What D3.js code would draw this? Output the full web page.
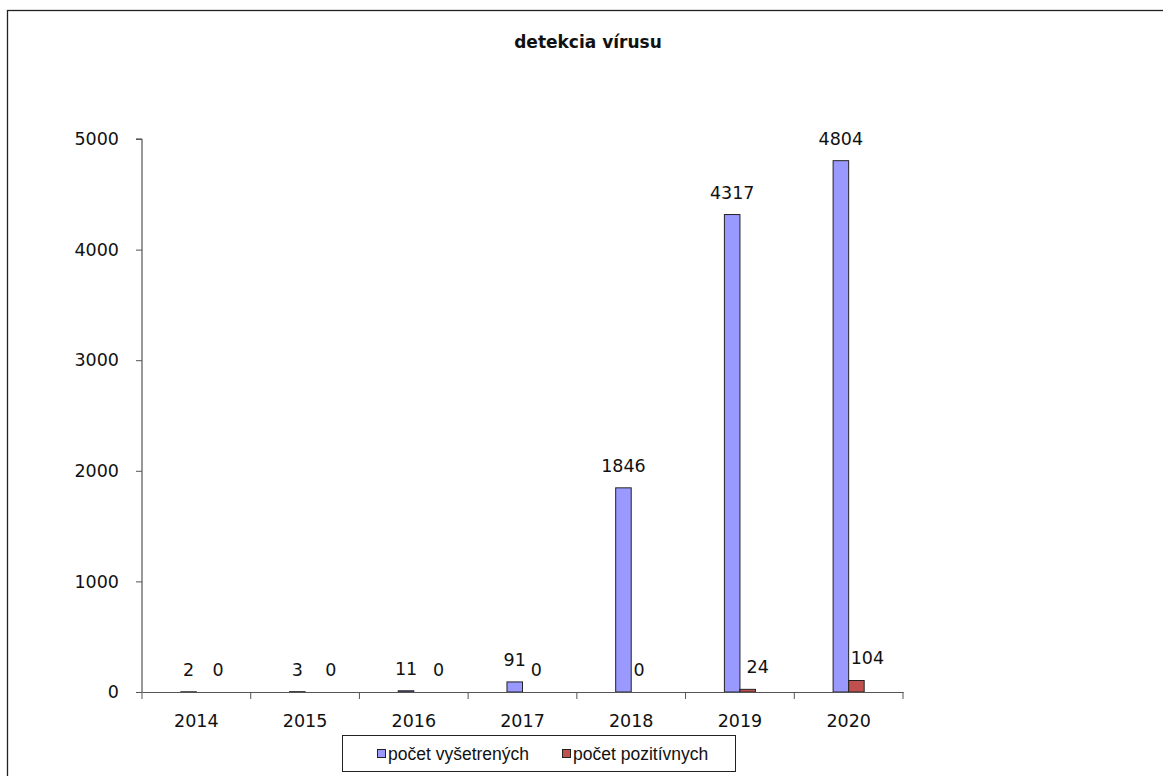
<!DOCTYPE html>
<html><head><meta charset="utf-8">
<script src="https://cdn.jsdelivr.net/npm/d3@7"></script>
<style>html,body{margin:0;padding:0;background:#fff;overflow:hidden}</style>
</head><body>
<svg id="chart" width="1163" height="776"></svg>
<script>
const years = ["2014","2015","2016","2017","2018","2019","2020"];
const examined = [2, 3, 11, 91, 1846, 4317, 4804];
const positive = [0, 0, 0, 0, 0, 24, 104];
const seriesNames = ["počet vyšetrených", "počet pozitívnych"];
const yTicks = [0, 1000, 2000, 3000, 4000, 5000];
const titleText = "detekcia vírusu";

const colors = ["#9999FF", "#C0504D"];
// horizontal nudge of the second series' value labels (as placed in the original)
const posLabelShift = [14, 18, 17, 6, 0, 10, 11];
const numFont = "DejaVu Sans, sans-serif";
const svg = d3.select("#chart");

// outer frame
svg.append("rect").attr("x", 7.5).attr("y", 10.5).attr("width", 1200).attr("height", 900)
  .attr("fill", "none").attr("stroke", "#222").attr("stroke-width", 1.3);

const pL = 142, pR = 903, pT = 139, pB = 692;
const x = d3.scaleBand().domain(years).range([pL, pR]).padding(0);
const y = d3.scaleLinear().domain([0, 5000]).range([pB, pT]);
const barW = x.bandwidth() / 7;

svg.append("text").attr("x", 588).attr("y", 48).attr("text-anchor", "middle")
  .style("font-family", "DejaVu Sans, sans-serif").style("font-weight", "bold")
  .style("font-size", "17px").attr("fill", "#111").text(titleText);

const data = years.map((yr, i) => ({yr, i, vals: [examined[i], positive[i]]}));

// bars
data.forEach(d => {
  d.vals.forEach((v, s) => {
    const bx = x(d.yr) + x.bandwidth() / 2 - barW + s * barW;
    svg.append("rect").attr("x", bx).attr("y", y(v)).attr("width", barW)
      .attr("height", Math.max(0, pB - y(v))).attr("fill", colors[s])
      .attr("stroke", "#222").attr("stroke-width", 1);
  });
});

// axes
const yAxis = d3.axisLeft(y).tickValues(yTicks).tickSize(6).tickPadding(17).tickFormat(d3.format("d"));
const gy = svg.append("g").attr("transform", `translate(${pL},0)`).call(yAxis);
gy.select(".domain").attr("stroke", "#333").attr("d", `M-6,${pT}H0V${pB}`);
gy.selectAll(".tick line").attr("stroke", "#555");
gy.selectAll("text").style("font-family", numFont).style("font-size", "17.5px").attr("fill", "#111");

const gx = svg.append("g").attr("transform", `translate(0,${pB})`)
  .call(d3.axisBottom(x).tickSize(0).tickPadding(23));
gx.select(".domain").attr("stroke", "#555");
gx.selectAll("text").style("font-family", numFont).style("font-size", "17.5px").attr("fill", "#111");
// category boundary ticks
gx.selectAll(".bt").data(years.concat(["end"])).enter().append("line")
  .attr("x1", (d, i) => pL + i * x.bandwidth()).attr("x2", (d, i) => pL + i * x.bandwidth())
  .attr("y1", 0).attr("y2", 7).attr("stroke", "#555");

// value labels
data.forEach(d => {
  d.vals.forEach((v, s) => {
    const cx = x(d.yr) + x.bandwidth() / 2 - barW / 2 + s * barW + (s === 1 ? posLabelShift[d.i] : 0);
    svg.append("text").attr("x", cx).attr("y", y(v) - 16).attr("text-anchor", "middle")
      .style("font-family", numFont).style("font-size", "17.5px").attr("fill", "#111")
      .text(v);
  });
});

// legend
svg.append("rect").attr("x", 342.5).attr("y", 735.5).attr("width", 393).attr("height", 36)
  .attr("fill", "#fff").attr("stroke", "#222").attr("stroke-width", 1);
const legItems = [{x: 377}, {x: 562}];
seriesNames.forEach((n, i) => {
  svg.append("rect").attr("x", legItems[i].x + 0.5).attr("y", 749.5).attr("width", 8).attr("height", 8)
    .attr("fill", colors[i]).attr("stroke", "#222").attr("stroke-width", 1);
  svg.append("text").attr("x", legItems[i].x + 11).attr("y", 760)
    .style("font-family", "Liberation Sans, Arial, sans-serif").style("font-size", "17.5px").attr("fill", "#111")
    .text(n);
});
</script>
</body></html>
